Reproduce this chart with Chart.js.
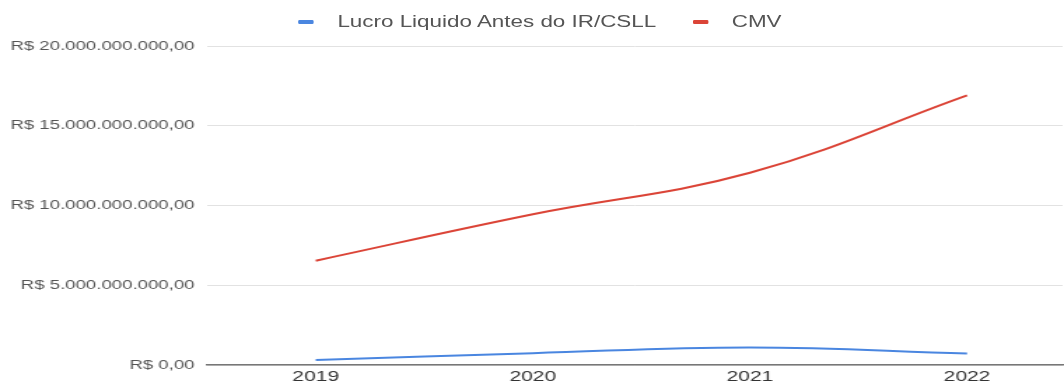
<!DOCTYPE html>
<html lang="pt-BR">
<head>
<meta charset="utf-8">
<title>Lucro Liquido Antes do IR/CSLL x CMV</title>
<script src="https://cdn.jsdelivr.net/npm/chart.js@4.4.1/dist/chart.umd.min.js"></script>
<style>
html,body{margin:0;padding:0;background:#fff;overflow:hidden;}
#wrap{position:relative;width:760px;height:389px;transform:scaleX(1.4);transform-origin:0 0;}
#legend{position:absolute;top:13px;left:213px;display:flex;align-items:center;
font-family:"Liberation Sans",Arial,sans-serif;font-size:16px;color:#555;white-space:nowrap;}
#legend .mk{display:inline-block;width:11px;height:4px;border-radius:1px;margin-right:17px;}
#legend .item{display:flex;align-items:center;margin-right:26px;}
</style>
</head>
<body>
<div id="wrap">
<canvas id="chart"></canvas>
<div id="legend"></div>
</div>
<script>
const years = [2019, 2020, 2021, 2022];
const seriesNames = ['Lucro Liquido Antes do IR/CSLL', 'CMV'];
const lucro = [0.32e9, 0.74e9, 1.1e9, 0.72e9];
const cmv = [6.54e9, 9.45e9, 12.05e9, 16.9e9];
const yTicks = [0, 5e9, 10e9, 15e9, 20e9];
const colors = ['#4a86e0', '#db4437'];

function brl(v){
const parts = v.toFixed(2).split('.');
return 'R$ ' + parts[0].replace(/\B(?=(\d{3})+(?!\d))/g, '.') + ',' + parts[1];
}

function points(arr){
return years.map((y, i) => ({x: y, y: arr[i]}));
}

// legend drawn as html above the plot
const legend = document.getElementById('legend');
seriesNames.forEach((name, i) => {
const item = document.createElement('span');
item.className = 'item';
item.innerHTML = '<span class="mk" style="background:' + colors[i] + '"></span>' + name;
legend.appendChild(item);
});

const font = {family: '"Liberation Sans", Arial, sans-serif'};

new Chart(document.getElementById('chart'), {
type: 'line',
data: {
datasets: [
{label: seriesNames[0], data: points(lucro), borderColor: colors[0], backgroundColor: colors[0], borderWidth: 2, pointRadius: 0, tension: 0.4},
{label: seriesNames[1], data: points(cmv), borderColor: colors[1], backgroundColor: colors[1], borderWidth: 2, pointRadius: 0, tension: 0.4}
]
},
options: {
responsive: true,
maintainAspectRatio: false,
animation: false,
layout: {padding: {top: 46, left: 0, right: 0, bottom: 0}},
plugins: {legend: {display: false}, tooltip: {enabled: false}},
scales: {
x: {
type: 'linear',
min: 2018.5,
max: 2022.44,
afterBuildTicks: s => { s.ticks = years.map(v => ({value: v})); },
ticks: {
padding: 3,
color: '#333',
font: {...font, size: 15},
callback: v => String(v)
},
grid: {display: false, drawTicks: false},
border: {display: true, color: '#777', width: 1.5}
},
y: {
min: 0,
max: 20e9,
afterBuildTicks: s => { s.ticks = yTicks.map(v => ({value: v})); },
afterFit: s => { s.width = 148; },
ticks: {
padding: 9,
color: '#555',
font: {...font, size: 13.3},
callback: v => brl(v)
},
grid: {color: '#e2e2e2', drawTicks: false, lineWidth: 1},
border: {display: false}
}
}
}
});
</script>
</body>
</html>
